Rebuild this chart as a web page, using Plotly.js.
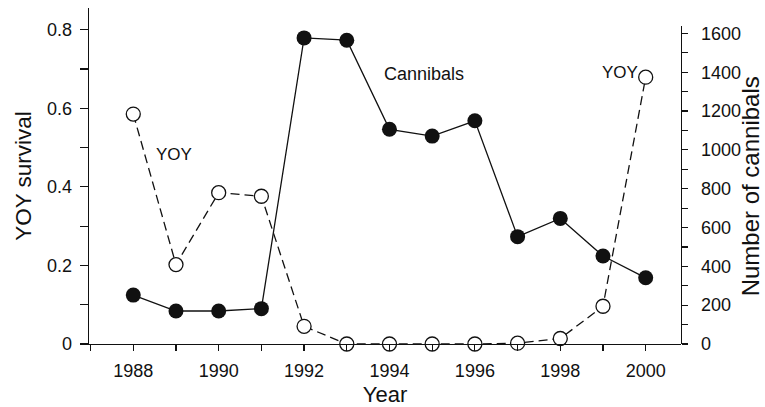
<!DOCTYPE html>
<html>
<head>
<meta charset="utf-8">
<script src="https://cdn.plot.ly/plotly-3.0.1.min.js"></script>
<style>html,body{margin:0;padding:0;background:#fff;}#chart{width:765px;height:407px;}</style>
</head>
<body>
<div id="chart"></div>
<script>
// Data
var years = [1988, 1989, 1990, 1991, 1992, 1993, 1994, 1995, 1996, 1997, 1998, 1999, 2000];
var yoySurvival = [0.585, 0.202, 0.385, 0.376, 0.045, 0.0, 0.0, 0.0, 0.0, 0.002, 0.014, 0.096, 0.679];
var cannibals = [252, 170, 170, 182, 1577, 1565, 1106, 1071, 1150, 553, 647, 453, 341];
var xTickVals = [1988, 1990, 1992, 1994, 1996, 1998, 2000];
var xTickText = ['1988', '1990', '1992', '1994', '1996', '1998', '2000'];
var leftTickVals = [0, 0.2, 0.4, 0.6, 0.8];
var leftTickText = ['0', '0.2', '0.4', '0.6', '0.8'];
var rightTickVals = [0, 200, 400, 600, 800, 1000, 1200, 1400, 1600];
var rightTickText = ['0', '200', '400', '600', '800', '1000', '1200', '1400', '1600'];

var FONT = 'Liberation Sans, Arial, Helvetica, sans-serif';
var INK = '#111';

var traceCannibals = {
  x: years, y: cannibals, xaxis: 'x', yaxis: 'y2',
  type: 'scatter', mode: 'lines+markers', cliponaxis: false,
  line: {color: INK, width: 1.3},
  marker: {symbol: 'circle', size: 15, color: INK, line: {color: INK, width: 0}},
  hoverinfo: 'skip', showlegend: false
};
var traceYOY = {
  x: years, y: yoySurvival, xaxis: 'x', yaxis: 'y',
  type: 'scatter', mode: 'lines+markers', cliponaxis: false,
  line: {color: INK, width: 1.3, dash: '9px,5px'},
  marker: {symbol: 'circle', size: 14, color: '#fff', line: {color: INK, width: 1.3}},
  hoverinfo: 'skip', showlegend: false
};

var layout = {
  width: 765, height: 407,
  margin: {l: 89, r: 84, t: 8, b: 63, pad: 0},
  paper_bgcolor: '#fff', plot_bgcolor: 'rgba(0,0,0,0)',
  font: {family: FONT, color: INK, size: 18},
  showlegend: false,
  xaxis: {
    range: [1986.963, 2000.827], domain: [0, 1], anchor: 'y',
    showline: true, linecolor: INK, linewidth: 1.3, mirror: false,
    showgrid: false, zeroline: false,
    tickmode: 'array', tickvals: xTickVals, ticktext: xTickText,
    ticks: 'outside', ticklen: 6, tickwidth: 1.2, tickcolor: INK,
    ticklabelstandoff: 4,
    minor: {dtick: 1, tick0: 1988, ticks: 'outside', ticklen: 6, tickwidth: 1.2, tickcolor: INK, showgrid: false},
    tickfont: {size: 18, family: FONT, color: INK},
    title: {text: 'Year', font: {size: 22, family: FONT, color: INK}, standoff: 6}
  },
  yaxis: {
    range: [0, 0.855], domain: [0, 1], anchor: 'x', side: 'left',
    showline: true, linecolor: INK, linewidth: 1.3,
    showgrid: false, zeroline: false,
    tickmode: 'array', tickvals: leftTickVals, ticktext: leftTickText,
    ticks: 'outside', ticklen: 8, tickwidth: 1.2, tickcolor: INK,
    ticklabelstandoff: 4,
    minor: {dtick: 0.1, tick0: 0, ticks: 'outside', ticklen: 8, tickwidth: 1.2, tickcolor: INK, showgrid: false},
    tickfont: {size: 18, family: FONT, color: INK},
    title: {text: 'YOY survival', font: {size: 22.5, family: FONT, color: INK}, standoff: 9}
  },
  yaxis2: {
    range: [0, 1637.5], domain: [0, 0.946], anchor: 'x', side: 'right',
    showline: true, linecolor: INK, linewidth: 1.3,
    showgrid: false, zeroline: false,
    tickmode: 'array', tickvals: rightTickVals, ticktext: rightTickText,
    ticks: 'outside', ticklen: 6, tickwidth: 1.2, tickcolor: INK,
    ticklabelstandoff: 9,
    minor: {dtick: 100, tick0: 0, ticks: 'outside', ticklen: 6, tickwidth: 1.2, tickcolor: INK, showgrid: false},
    tickfont: {size: 18, family: FONT, color: INK}
  },
  annotations: [
    {text: 'YOY', xref: 'x', yref: 'y', x: 1988.954, y: 0.481, showarrow: false,
     xanchor: 'center', yanchor: 'middle', font: {size: 17, family: FONT, color: INK}},
    {text: 'Cannibals', xref: 'x', yref: 'y', x: 1994.801, y: 0.687, showarrow: false,
     xanchor: 'center', yanchor: 'middle', font: {size: 18, family: FONT, color: INK}},
    {text: 'YOY', xref: 'x', yref: 'y', x: 1999.399, y: 0.690, showarrow: false,
     xanchor: 'center', yanchor: 'middle', font: {size: 17, family: FONT, color: INK}},
    {text: 'Number of cannibals', xref: 'paper', yref: 'paper', x: 1.117, y: 0.47,
     textangle: -90, showarrow: false, xanchor: 'center', yanchor: 'middle',
     font: {size: 24, family: FONT, color: INK}}
  ]
};

Plotly.newPlot('chart', [traceCannibals, traceYOY], layout, {staticPlot: true, displayModeBar: false});
</script>
</body>
</html>
